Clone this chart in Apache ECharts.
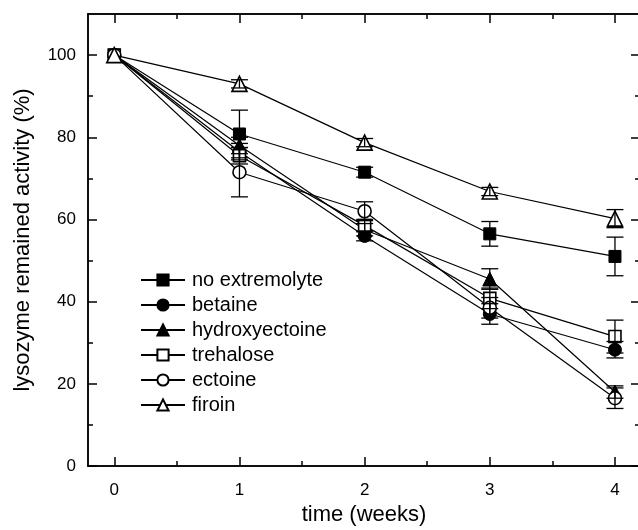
<!DOCTYPE html>
<html>
<head>
<meta charset="utf-8">
<script src="https://cdn.jsdelivr.net/npm/echarts@6/dist/echarts.min.js"></script>
<style>html,body{margin:0;padding:0;background:#fff;}#c{width:638px;height:530px;}</style>
</head>
<body>
<div id="c"></div>
<script>
const weeks = [0, 1, 2, 3, 4];
const seriesNames = ['no extremolyte', 'betaine', 'hydroxyectoine', 'trehalose', 'ectoine', 'firoin'];
const noExtremolyte = [100, 80.8, 71.5, 56.5, 51.0];
const noExtremolyteErr = [0, 5.8, 1.2, 3.0, 4.7];
const betaine = [100, 76.5, 56.0, 37.0, 28.3];
const betaineErr = [0, 2.0, 1.2, 2.5, 2.0];
const hydroxyectoine = [100, 78.0, 57.5, 45.5, 18.0];
const hydroxyectoineErr = [0, 2.0, 1.5, 2.5, 1.5];
const trehalose = [100, 75.5, 58.5, 40.8, 31.5];
const trehaloseErr = [0, 2.0, 1.5, 2.5, 4.0];
const ectoine = [100, 71.5, 62.0, 38.5, 16.5];
const ectoineErr = [0, 6.0, 2.3, 2.5, 2.5];
const firoin = [100, 93.0, 78.7, 66.8, 60.2];
const firoinErr = [0, 1.0, 1.0, 1.0, 2.2];
const xMajorTicks = [0, 1, 2, 3, 4];
const xMinorTicks = [0.5, 1.5, 2.5, 3.5];
const yMajorTicks = [0, 20, 40, 60, 80, 100];
const yMinorTicks = [10, 30, 50, 70, 90];

const values = [noExtremolyte, betaine, hydroxyectoine, trehalose, ectoine, firoin];
const errs = [noExtremolyteErr, betaineErr, hydroxyectoineErr, trehaloseErr, ectoineErr, firoinErr];
const symbols = ['rect', 'circle', 'triangle', 'rect', 'circle', 'triangle'];
const filled = [true, true, true, false, false, false];
const sizes = [12, 13, 14, 12, 13, 15];

const FONT = 'Liberation Sans, Arial, sans-serif';
const lineStyleAxis = { color: '#000', width: 1.5 };

function xAx(pos, ticks, len, labels, extra) {
  return Object.assign({
    type: 'value', position: pos, min: -0.21, max: 4.2,
    axisLine: { show: true, onZero: false, lineStyle: lineStyleAxis },
    axisTick: { show: true, inside: true, length: len, customValues: ticks, lineStyle: { color: '#000', width: 1.5 } },
    axisLabel: labels ? { show: true, customValues: ticks, color: '#000', fontSize: 17, fontFamily: FONT, margin: 16 } : { show: false },
    splitLine: { show: false }
  }, extra || {});
}
function yAx(pos, ticks, len, labels, extra) {
  return Object.assign({
    type: 'value', position: pos, min: 0, max: 110,
    axisLine: { show: true, onZero: false, lineStyle: lineStyleAxis },
    axisTick: { show: true, inside: true, length: len, customValues: ticks, lineStyle: { color: '#000', width: 1.5 } },
    axisLabel: labels ? { show: true, customValues: ticks, color: '#000', fontSize: 17, fontFamily: FONT, margin: 12 } : { show: false },
    splitLine: { show: false }
  }, extra || {});
}

const series = [];
values.forEach((vals, i) => {
  series.push({
    name: seriesNames[i], type: 'line', xAxisIndex: 0, yAxisIndex: 0,
    data: weeks.map((w, j) => [w, vals[j]]),
    symbol: symbols[i], symbolSize: sizes[i], showSymbol: true,
    lineStyle: { color: '#000', width: 1.2 },
    itemStyle: { color: filled[i] ? '#000' : '#fff', borderColor: '#000', borderWidth: filled[i] ? 1 : 1.6 },
    emphasis: { disabled: true }, z: 2 + i * 0.01
  });
});
const errData = [];
values.forEach((vals, i) => {
  weeks.forEach((w, j) => { if (errs[i][j] > 0) errData.push([w, vals[j], errs[i][j]]); });
});
series.push({
  type: 'custom', xAxisIndex: 0, yAxisIndex: 0, z: 5, silent: true,
  data: errData,
  renderItem: function (params, api) {
    const x = api.value(0), y = api.value(1), e = api.value(2);
    const t = api.coord([x, y + e]), b = api.coord([x, y - e]);
    const hw = 8.5, st = { stroke: '#000', lineWidth: 1.3 };
    return { type: 'group', children: [
      { type: 'line', shape: { x1: t[0], y1: t[1], x2: b[0], y2: b[1] }, style: st },
      { type: 'line', shape: { x1: t[0] - hw, y1: t[1], x2: t[0] + hw, y2: t[1] }, style: st },
      { type: 'line', shape: { x1: b[0] - hw, y1: b[1], x2: b[0] + hw, y2: b[1] }, style: st }
    ] };
  }
});

const chart = echarts.init(document.getElementById('c'));
chart.setOption({
  animation: false,
  backgroundColor: '#fff',
  grid: { left: 88, top: 14, width: 552, bottom: 64, containLabel: false, outerBoundsMode: 'none' },
  legend: {
    data: seriesNames, orient: 'vertical', left: 135, top: 265,
    itemWidth: 44, itemHeight: 14, itemGap: 5,
    textStyle: { color: '#000', fontSize: 20, fontFamily: FONT, padding: [0, 0, 0, 2] },
    inactiveColor: '#000', selectedMode: false
  },
  xAxis: [
    xAx('bottom', xMajorTicks, 9, true, {
      name: 'time (weeks)', nameLocation: 'middle', nameGap: 38,
      nameTextStyle: { color: '#000', fontSize: 22, fontFamily: FONT }
    }),
    xAx('bottom', xMinorTicks, 5, false),
    xAx('top', xMajorTicks, 9, false),
    xAx('top', xMinorTicks, 5, false)
  ],
  yAxis: [
    yAx('left', yMajorTicks, 9, true, {
      name: 'lysozyme remained activity (%)', nameLocation: 'middle', nameGap: 54,
      nameTextStyle: { color: '#000', fontSize: 22, fontFamily: FONT }
    }),
    yAx('left', yMinorTicks, 5, false),
    yAx('right', yMajorTicks, 9, false),
    yAx('right', yMinorTicks, 5, false)
  ],
  series: series
});
</script>
</body>
</html>
